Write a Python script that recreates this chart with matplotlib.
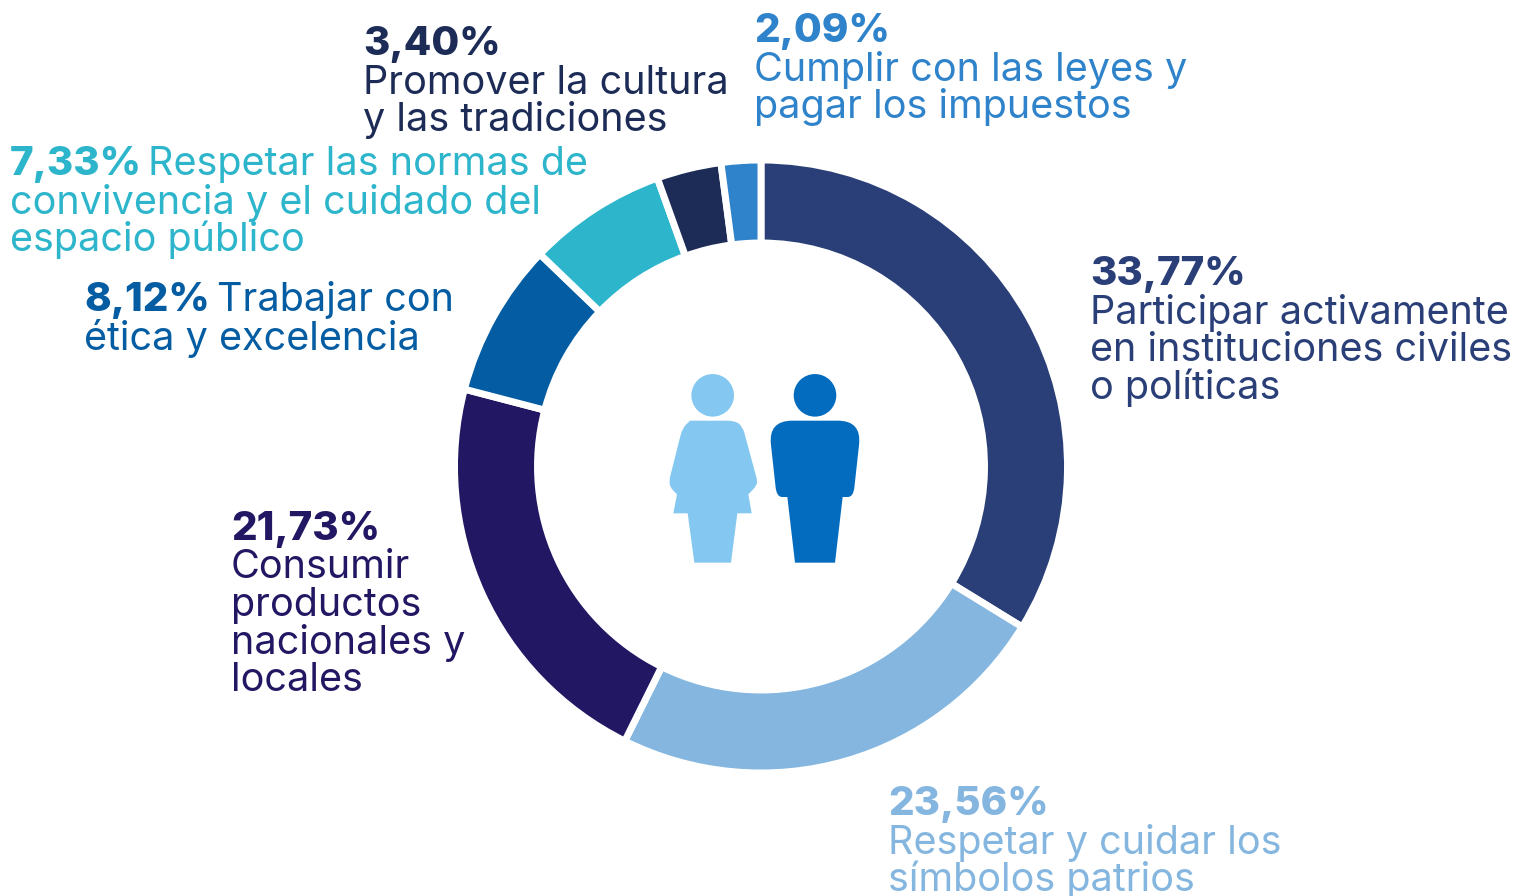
import matplotlib
matplotlib.use('Agg')
import matplotlib.pyplot as plt
from matplotlib.patches import Circle, PathPatch
from matplotlib.path import Path

W, H = 1531, 896

# values, clockwise from the top
values = [33.77, 23.56, 21.73, 8.12, 7.33, 3.40, 2.09]
pct_labels = ['33,77%', '23,56%', '21,73%', '8,12%', '7,33%', '3,40%', '2,09%']
colors = ['#2A3F77', '#84B6DF', '#211763', '#045DA2', '#2CB5CB', '#1C2C56', '#2F83CA']
descriptions = [
    ['Participar activamente', 'en instituciones civiles', 'o políticas'],
    ['Respetar y cuidar los', 'símbolos patrios'],
    ['Consumir', 'productos', 'nacionales y', 'locales'],
    ['Trabajar con', 'ética y excelencia'],
    ['Respetar las normas de', 'convivencia y el cuidado del', 'espacio público'],
    ['Promover la cultura', 'y las tradiciones'],
    ['Cumplir con las leyes y', 'pagar los impuestos'],
]
# label x, first baseline, x of text on the pct line (None = text starts below)
label_pos = [
    (1090, 285, None), (888, 815, None), (231, 540, None), (84, 311, 217),
    (10, 175, 148), (363, 55, None), (754, 42, None),
]
LINE = 37.5
REG = 28.5
BOLD = 29.0
FONT = 'Inter'

WOMAN = [(120, 182, 0), (255, 182, 24), (278, 200, 20), (320, 355, 0), (322, 375, 28),
         (295, 403, 0), (305, 460, 0), (262, 460, 0), (243, 608, 0), (133, 608, 0),
         (113, 460, 0), (70, 460, 0), (81, 403, 0), (54, 375, 28), (97, 205, 20)]
MAN = [(355, 182, 72), (635, 182, 72), (610, 411, 30), (578, 411, 0), (555, 608, 0),
       (435, 608, 0), (412, 411, 0), (380, 411, 30)]


def zoom_xy(x, y):
    """zoomed crop coords to axes coords"""
    return 650 + x / 3, H - (360 + y / 3)


def rounded_patch(points, color):
    """closed polygon with rounded corners"""
    verts, codes = [], []
    n = len(points)
    for i, (x, y, r) in enumerate(points):
        px, py, _ = points[i - 1]
        nx, ny, _ = points[(i + 1) % n]
        d1 = ((px - x) ** 2 + (py - y) ** 2) ** 0.5
        d2 = ((nx - x) ** 2 + (ny - y) ** 2) ** 0.5
        a = (x + (px - x) * min(r, d1 / 2) / d1, y + (py - y) * min(r, d1 / 2) / d1)
        b = (x + (nx - x) * min(r, d2 / 2) / d2, y + (ny - y) * min(r, d2 / 2) / d2)
        verts += [zoom_xy(*a), zoom_xy(x, y), zoom_xy(*b)]
        codes += [Path.LINETO, Path.CURVE3, Path.CURVE3]
    codes[0] = Path.MOVETO
    verts.append(verts[0])
    codes.append(Path.CLOSEPOLY)
    return PathPatch(Path(verts, codes), facecolor=color, edgecolor='none')


fig = plt.figure(figsize=(W / 100, H / 100), dpi=100)
ax = fig.add_axes([0, 0, 1, 1])

ax.pie(values, colors=colors, startangle=90, counterclock=False, radius=306.5,
       center=(761, H - 466.5), frame=True,
       wedgeprops={'width': 83, 'edgecolor': 'white', 'linewidth': 5})
ax.set_xlim(0, W)
ax.set_ylim(0, H)
ax.axis('off')

for pct, lines, col, (x, y, x2) in zip(pct_labels, descriptions, colors, label_pos):
    ax.text(x, H - y, pct, color=col, fontsize=BOLD, fontweight=800, family=FONT)
    if x2 is not None:
        ax.text(x2, H - y, lines[0], color=col, fontsize=REG, fontweight='normal', family=FONT)
        lines = lines[1:]
    for i, line in enumerate(lines):
        ax.text(x, H - y - 1 - LINE * (i + 1), line, color=col, fontsize=REG,
                fontweight='normal', family=FONT)

# icon in the middle
ax.add_patch(Circle(zoom_xy(188, 106), 21.3, color='#84C8F1', lw=0))
ax.add_patch(Circle(zoom_xy(495, 106), 21.3, color='#036CBF', lw=0))
ax.add_patch(rounded_patch(WOMAN, '#84C8F1'))
ax.add_patch(rounded_patch(MAN, '#036CBF'))

fig.savefig('out.png', dpi=100)
